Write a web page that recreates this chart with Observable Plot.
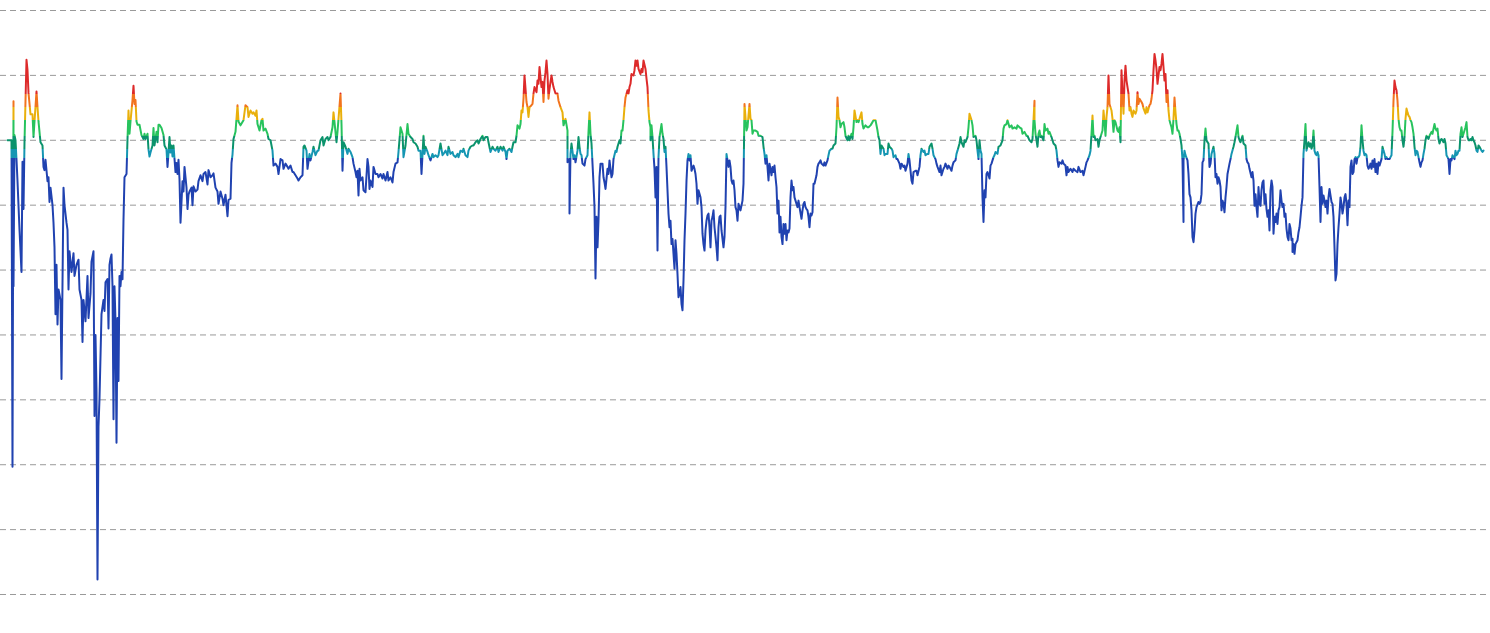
<!DOCTYPE html>
<html>
<head>
<meta charset="utf-8">
<script src="https://cdn.jsdelivr.net/npm/d3@7"></script>
<script src="https://cdn.jsdelivr.net/npm/@observablehq/plot@0.6"></script>
<style>
  html, body { margin: 0; padding: 0; background: #ffffff; overflow: hidden; }
  #chart svg { display: block; }
</style>
</head>
<body>
<div id="chart"></div>
<script>
// Readings: [day, index value], period by period
const period1 = [[0,70.0],[4,70.0],[5,19.7],[6,76.0],[6,47.5],[7,70.8],[8,70.0],[9,67.0],[10,63.7],[12,56.2],[14,49.7],[15,66.7],[16,59.4],[17,69.7],[19,82.4],[20,80.8],[21,77.3],[23,74.0],[25,74.0],[26,70.5],[27,72.9],[29,77.5],[30,75.1],[31,72.9],[33,69.7],[35,69.2],[36,65.9],[37,65.4],[38,67.0],[40,63.7],[41,64.3],[42,60.5],[43,62.7],[45,60.0],[46,57.3],[47,53.5],[48,43.2],[49,50.8],[50,41.6],[51,47.0],[53,45.4],[54,33.2],[56,62.7],[57,60.0],[59,57.3],[60,56.2],[61,47.0],[62,52.9],[64,49.7],[66,52.6],[67,49.1],[69,50.8],[71,51.6],[72,47.0],[74,45.4],[75,38.9],[76,45.4],[78,42.1],[80,49.1],[81,42.6],[83,46.4],[84,51.3],[86,52.9],[87,27.5],[88,40.0],[89,31.3],[90,2.3],[91,25.9],[92,30.2],[94,43.2],[96,45.4],[97,43.7],[98,48.1],[100,48.6],[101,41.0],[102,50.8],[103,51.8],[104,52.4],[105,47.5],[106,27.0],[107,47.5],[108,42.1],[109,23.4],[110,42.6],[111,32.9],[112,49.1],[113,47.5],[114,49.7],[115,48.6],[116,57.8],[117,64.3],[119,64.8],[120,70.2],[121,74.6],[122,71.0],[123,72.9],[125,76.2],[126,78.4],[127,75.6],[128,76.2],[129,72.9],[130,72.4],[132,72.4],[134,70.8],[136,70.2],[137,71.0],[138,70.2],[140,71.0],[141,68.6],[142,67.5],[143,68.1],[145,69.2],[146,71.9],[147,69.2],[149,71.3],[150,69.7],[151,72.4],[152,72.4],[154,71.9],[156,70.8],[157,69.2],[159,68.6],[160,65.9],[161,68.1],[162,70.5],[163,68.1],[164,69.2],[165,67.5],[166,69.2],[168,65.1],[169,66.5],[170,64.8],[171,67.0],[172,64.0],[173,57.3],[175,63.7],[176,62.1],[177,65.9],[179,62.7],[180,59.4],[181,61.6],[182,62.1],[184,62.7],[185,60.0],[186,62.9],[188,62.1],[190,62.4],[191,63.7],[193,64.6],[195,63.7],[196,64.8],[198,65.1],[200,63.2],[201,65.4],[203,64.3],[205,64.6],[206,64.9],[208,62.7],[210,62.1],[211,60.2],[213,62.1],[215,61.0],[216,60.0],[218,61.6],[220,58.3],[221,60.8],[223,61.0],[224,66.5],[225,67.8],[226,70.2],[228,71.3],[230,75.4],[231,72.9]];

const period2 = [[233,72.3],[236,73.1],[238,75.4],[240,75.1],[241,73.6],[243,74.6],[245,74.1],[246,74.3],[248,73.8],[249,74.6],[250,72.5],[252,71.5],[254,73.1],[255,73.3],[256,71.5],[258,71.8],[260,71.0],[261,70.2],[263,70.0],[265,68.4],[266,66.1],[268,66.4],[270,65.9],[271,64.8],[273,67.1],[275,66.9],[276,65.6],[278,66.4],[280,65.9],[281,65.6],[283,66.1],[285,65.1],[286,65.1],[288,64.6],[290,64.1],[291,63.8],[293,64.3],[295,64.6],[296,69.0],[297,69.2],[299,68.4],[300,65.6],[302,67.9],[303,66.9],[305,68.2],[306,69.0],[308,67.7],[310,68.4],[311,68.4],[313,70.0],[315,70.5],[316,69.2],[318,70.2],[320,70.5],[321,70.0],[323,70.5],[325,72.0],[326,74.3],[327,72.8],[329,69.7],[330,71.3],[331,73.3],[333,77.2],[334,72.5],[335,65.3],[336,69.7],[338,69.0],[340,67.9],[341,68.7],[343,68.2],[345,67.4],[346,66.4],[348,65.1],[349,64.3],[350,65.3],[351,61.5],[352,65.6],[353,63.8],[355,64.3],[356,62.3],[358,62.0],[360,67.1],[361,65.9],[362,62.5],[363,63.8],[365,62.8],[366,65.9],[368,64.8],[370,64.8],[371,64.3],[373,64.8],[375,64.1],[376,64.8],[378,63.8],[380,65.1],[381,63.8],[383,64.3],[385,63.5],[386,65.1],[388,66.4],[390,66.6],[391,68.2],[393,72.0],[395,71.0],[396,67.4],[398,69.2],[400,72.5],[401,71.0],[403,70.5],[405,70.2],[406,69.7],[408,69.5],[410,69.0],[411,68.4],[413,68.4],[414,64.8],[416,70.7],[417,67.9],[418,69.0],[420,68.2],[421,67.7],[423,66.9],[425,67.9],[426,67.4],[428,67.7],[430,67.4],[431,67.7],[433,69.5],[435,67.7],[436,67.9],[438,68.4],[440,67.7],[441,69.0],[443,67.9],[445,68.2],[446,67.7],[448,67.4],[450,67.9],[451,67.4],[453,68.4],[455,68.2],[456,68.7],[458,67.7],[460,67.4],[461,68.4],[463,69.0],[465,69.2],[466,69.2],[468,69.7],[470,70.0],[471,69.5],[473,70.2],[475,70.7],[476,70.0],[478,70.5],[480,70.5],[481,69.7],[483,68.2],[485,69.0],[486,68.7],[488,68.4],[490,69.0],[491,68.2]];

const period3 = [[493,69.0],[495,68.4],[496,69.0],[498,68.2],[499,67.1],[500,68.4],[502,68.7],[504,68.2],[505,69.0],[506,69.7],[508,69.7],[509,70.7],[510,72.3],[512,71.8],[513,72.5],[514,74.6],[515,74.3],[516,76.4],[517,80.0],[519,75.9],[520,75.1],[521,73.6],[522,75.1],[524,75.4],[525,75.6],[526,77.2],[527,78.2],[529,77.4],[530,79.2],[531,78.7],[532,81.3],[533,79.7],[534,78.2],[535,79.0],[536,75.9],[537,79.2],[538,80.5],[539,82.3],[540,80.2],[541,76.4],[542,77.9],[544,80.0],[545,79.0],[546,78.2],[548,77.2],[550,77.2],[551,76.1],[553,75.1],[555,74.3],[556,72.3],[558,73.3],[560,71.5],[560,66.6],[562,67.1],[562,58.7],[563,67.9],[564,69.5],[566,67.1],[567,67.7],[568,66.6],[570,68.4],[571,70.5],[572,69.0],[573,67.9],[574,67.7],[575,66.4],[577,66.1],[578,67.1],[580,67.7],[581,71.3],[582,74.3],[583,71.0],[584,69.5],[586,63.3],[587,59.7],[588,48.7],[589,58.2],[590,53.5],[591,57.6],[592,64.3],[593,66.4],[595,66.4],[596,64.3],[597,63.5],[598,62.5],[600,65.6],[601,64.8],[602,66.9],[604,64.3],[605,64.8],[606,67.1],[608,68.4],[609,68.2],[610,69.0],[612,70.0],[613,69.5],[614,71.5],[615,71.5],[616,73.1],[617,75.1],[618,76.6],[620,77.7],[621,77.2],[622,78.2],[623,78.7],[624,80.2],[626,80.0],[627,80.8],[628,82.3],[629,81.5],[630,82.3],[631,81.0],[633,80.2],[634,81.0],[635,80.5],[636,82.3],[638,81.0],[639,79.5],[640,78.2],[641,74.6],[642,72.8],[643,72.0],[643,70.0],[644,72.3],[645,70.5],[646,67.9],[647,65.6],[648,61.2],[649,65.9],[650,53.0],[651,67.4],[652,70.5],[654,72.5],[655,71.0],[656,70.2],[657,68.2],[658,69.0],[659,65.9],[660,62.3],[661,58.7],[662,56.6],[663,57.6],[664,54.0],[665,54.8],[667,50.2],[668,54.6],[669,52.5],[670,49.4],[671,45.8],[672,46.3],[673,47.4],[674,44.8],[675,43.8],[676,48.4],[677,54.6],[678,58.7],[679,63.8],[680,66.9],[681,67.9],[682,66.9],[683,67.7],[684,65.3],[686,66.1],[687,65.6],[688,64.8],[689,63.3],[690,60.2],[691,62.3],[693,61.2],[694,59.7],[695,55.6],[696,54.0],[697,53.0],[698,56.1],[699,57.6],[700,58.4],[701,58.7],[702,56.6],[703,53.5],[704,57.6],[705,58.2],[706,59.2],[707,56.6],[708,55.1],[709,53.5],[710,51.5],[711,56.6],[712,58.2],[713,58.4],[714,56.1],[716,53.5],[717,55.1],[718,59.7],[719,67.9],[720,66.9],[721,65.9],[722,66.9],[723,65.9],[724,63.8],[725,63.3],[726,63.8],[727,62.3],[728,59.7],[729,59.2],[730,57.6],[731,60.2],[733,59.2]];

const period4 = [[735,60.7],[736,63.3],[737,75.6],[739,71.5],[740,72.0],[742,75.6],[743,73.3],[744,73.1],[745,71.0],[746,71.5],[748,71.5],[750,71.3],[751,70.7],[753,70.7],[755,70.5],[756,69.0],[757,67.9],[758,66.4],[759,67.7],[760,65.9],[761,63.8],[762,66.4],[764,64.6],[765,65.9],[766,65.1],[767,66.1],[768,64.3],[769,62.8],[770,58.7],[771,60.7],[772,55.8],[773,58.2],[774,55.1],[775,54.0],[776,57.1],[777,55.6],[778,57.1],[779,54.6],[780,56.1],[781,55.8],[782,56.4],[783,61.2],[784,63.8],[785,62.3],[786,62.8],[787,61.2],[788,60.7],[790,59.7],[791,60.7],[792,59.7],[794,57.9],[795,59.2],[796,60.2],[797,60.5],[798,59.7],[799,59.4],[800,59.2],[801,58.2],[802,56.6],[803,58.7],[804,58.4],[805,58.9],[806,63.3],[807,63.3],[809,64.6],[810,65.9],[811,66.4],[812,66.6],[813,66.9],[814,66.4],[816,66.1],[817,66.6],[818,66.1],[820,66.9],[821,67.7],[822,68.4],[824,68.7],[825,68.7],[826,69.2],[828,69.5],[829,72.0],[830,76.6],[831,73.6],[832,73.1],[833,72.0],[834,72.5],[836,72.8],[837,72.0],[838,70.7],[840,70.0],[841,70.7],[842,70.0],[844,71.0],[845,70.2],[846,72.0],[847,74.6],[849,72.8],[850,73.1],[851,72.8],[852,73.3],[854,74.3],[855,72.5],[856,71.8],[858,72.3],[860,72.0],[861,72.0],[863,72.3],[865,72.8],[866,73.1],[868,73.1],[870,71.5],[871,70.5],[872,70.0],[873,67.9],[874,69.2],[876,68.7],[877,67.7],[878,67.9],[880,67.9],[881,69.5],[882,69.0],[884,68.7],[885,68.4],[886,67.4],[888,67.7],[889,67.1],[890,67.1],[892,66.4],[893,65.6],[894,66.4],[896,65.9],[897,66.1],[898,65.3],[900,66.4],[901,67.9],[902,66.9],[904,63.8],[905,63.3],[906,65.1],[908,65.3],[909,65.3],[910,64.6],[912,65.9],[913,67.7],[914,68.7],[916,68.2],[917,68.4],[918,67.7],[920,67.9],[921,67.9],[922,69.0],[924,69.5],[925,68.7],[926,67.7],[928,67.1],[929,66.4],[930,65.9],[932,65.1],[933,66.1],[934,64.6],[936,65.6],[937,65.9],[938,66.4],[940,65.6],[941,66.1],[942,65.9],[944,65.3],[945,66.1],[946,66.6],[948,66.9],[949,67.9],[950,68.4],[952,69.5],[953,70.5],[954,69.7],[956,69.0],[957,70.0],[958,69.7],[960,70.5],[961,72.0],[962,74.1],[964,73.1],[965,72.3],[966,70.5],[968,70.7],[969,70.0],[970,68.4],[971,67.1],[972,70.0],[973,68.4],[974,67.9],[975,61.2],[976,57.4],[977,62.3],[978,61.2],[979,64.8],[980,65.1],[982,64.1],[983,66.1],[984,66.4],[986,67.4],[987,67.7],[988,68.2],[990,67.9],[991,69.0]];

const period5 = [[993,69.2],[995,70.0],[996,71.8],[997,72.3],[999,72.5],[1000,73.1],[1002,72.0],[1004,72.3],[1005,71.8],[1007,72.0],[1009,71.8],[1010,72.3],[1012,72.0],[1014,71.8],[1015,71.0],[1017,71.3],[1019,70.7],[1020,70.7],[1022,70.0],[1024,69.7],[1025,70.2],[1026,73.1],[1027,76.1],[1027,73.1],[1028,71.0],[1030,69.0],[1031,71.0],[1032,71.5],[1033,70.5],[1034,70.7],[1036,70.0],[1037,72.5],[1038,71.5],[1040,71.8],[1041,71.0],[1042,71.3],[1044,70.5],[1045,70.0],[1046,69.5],[1048,69.2],[1049,68.4],[1050,66.9],[1051,65.9],[1052,66.6],[1054,66.4],[1055,66.9],[1056,66.4],[1058,66.1],[1059,64.6],[1060,65.9],[1061,65.1],[1063,65.6],[1065,65.1],[1066,65.6],[1068,65.3],[1070,65.1],[1071,65.9],[1073,65.1],[1075,65.3],[1076,64.6],[1078,65.9],[1079,66.6],[1080,66.9],[1082,67.7],[1083,68.4],[1084,71.0],[1085,73.8],[1086,70.5],[1087,70.7],[1088,70.0],[1090,70.2],[1091,69.0],[1092,70.0],[1094,71.0],[1095,71.5],[1096,74.6],[1097,72.8],[1098,70.7],[1099,73.6],[1100,75.1],[1101,80.0],[1102,75.6],[1103,75.1],[1104,74.6],[1105,73.3],[1106,71.3],[1107,73.1],[1108,72.8],[1110,71.5],[1111,71.3],[1112,72.0],[1113,69.7],[1114,80.8],[1115,77.2],[1116,74.1],[1117,79.2],[1118,81.5],[1119,79.2],[1120,78.2],[1121,77.2],[1122,74.6],[1123,75.1],[1124,74.1],[1125,73.6],[1126,74.6],[1128,74.1],[1129,74.6],[1130,77.4],[1131,75.6],[1132,76.4],[1134,75.9],[1135,75.6],[1136,74.9],[1138,74.1],[1139,75.1],[1140,74.3],[1142,75.4],[1143,75.6],[1144,76.4],[1145,77.7],[1146,80.8],[1147,83.3],[1148,82.3],[1149,81.0],[1150,78.7],[1151,80.0],[1152,81.3],[1153,80.8],[1154,81.8],[1155,83.3],[1156,81.3],[1157,79.2],[1158,80.2],[1159,75.9],[1160,77.7],[1161,74.6],[1162,73.1],[1163,72.5],[1164,72.0],[1165,71.0],[1166,73.3],[1167,76.6],[1168,74.3],[1169,72.5],[1170,71.5],[1171,71.5],[1172,71.0],[1173,70.2],[1174,69.2],[1175,66.9],[1176,57.4],[1176,66.9],[1177,68.4],[1178,67.7],[1180,66.9],[1181,64.8],[1182,61.7],[1183,61.2],[1184,59.2],[1185,55.1],[1186,54.3],[1187,56.1],[1188,58.7],[1189,59.7],[1191,60.5],[1192,60.2],[1193,60.5],[1194,61.7],[1195,66.6],[1196,66.9],[1197,70.0],[1198,71.8],[1199,70.0],[1200,69.7],[1201,69.5],[1202,65.9],[1203,66.4],[1204,67.9],[1206,69.0],[1207,67.9],[1208,64.3],[1209,64.8],[1210,63.3],[1211,64.3],[1212,63.8],[1213,62.8],[1214,59.2],[1215,60.7],[1216,60.2],[1217,58.9],[1218,61.2],[1219,62.8],[1220,64.8],[1221,65.6],[1222,66.4],[1223,67.1],[1224,67.9],[1226,69.0],[1227,69.7],[1228,70.5],[1230,72.3],[1231,70.5],[1232,70.0]];

const period6 = [[1233,69.7],[1235,70.7],[1236,69.5],[1238,69.2],[1239,67.1],[1240,66.6],[1241,66.4],[1242,65.6],[1244,64.3],[1245,65.1],[1246,63.8],[1247,59.9],[1248,61.7],[1249,59.7],[1250,58.2],[1251,62.8],[1252,60.2],[1253,59.9],[1254,62.3],[1255,63.5],[1256,63.8],[1257,60.2],[1258,61.7],[1259,59.4],[1260,58.2],[1261,59.2],[1262,56.1],[1263,62.3],[1264,63.8],[1265,62.8],[1266,55.6],[1267,58.2],[1268,57.4],[1269,58.7],[1270,57.1],[1271,59.2],[1272,59.7],[1273,62.3],[1274,60.7],[1275,59.7],[1276,60.2],[1277,58.2],[1278,58.7],[1279,56.4],[1280,55.1],[1281,54.6],[1282,57.1],[1283,56.4],[1284,54.6],[1285,54.8],[1285,52.8],[1286,54.0],[1287,52.5],[1288,54.0],[1290,54.6],[1291,55.8],[1292,56.6],[1293,58.2],[1294,59.9],[1295,61.2],[1296,67.9],[1297,70.0],[1298,72.5],[1299,68.4],[1300,69.2],[1301,69.7],[1302,69.0],[1303,69.5],[1304,68.7],[1305,69.2],[1306,71.5],[1307,68.4],[1308,67.9],[1309,67.7],[1310,68.2],[1311,67.7],[1312,62.8],[1313,57.4],[1314,62.8],[1315,60.2],[1316,61.5],[1317,60.7],[1318,59.7],[1319,60.7],[1320,58.7],[1321,61.2],[1322,62.5],[1323,61.5],[1324,60.5],[1325,60.2],[1326,58.2],[1327,53.5],[1328,48.4],[1329,49.4],[1330,54.0],[1331,56.6],[1332,58.7],[1333,61.2],[1334,60.2],[1335,58.7],[1336,59.7],[1337,61.2],[1338,61.7],[1339,60.2],[1340,56.9],[1341,60.7],[1342,59.7],[1343,65.9],[1344,66.9],[1345,64.8],[1346,65.1],[1347,67.1],[1348,67.4],[1349,66.4],[1350,67.4],[1351,67.4],[1352,67.7],[1353,69.0],[1354,72.3],[1355,70.0],[1356,68.4],[1357,67.7],[1358,67.9],[1359,67.7],[1360,66.1],[1361,65.6],[1362,65.9],[1363,66.4],[1364,65.6],[1365,66.9],[1366,65.9],[1367,67.1],[1368,65.1],[1369,66.4],[1370,64.8],[1371,66.6],[1372,66.1],[1373,66.6],[1374,67.1],[1375,69.0],[1376,68.4],[1377,67.9],[1378,67.1],[1379,67.4],[1380,67.1],[1381,67.1],[1382,67.1],[1383,67.4],[1384,67.7],[1385,71.3],[1386,76.1],[1387,79.2],[1388,78.2],[1389,77.7],[1390,76.1],[1391,73.3],[1392,72.0],[1393,71.5],[1394,71.5],[1395,70.0],[1396,69.0],[1397,70.5],[1398,73.3],[1399,74.9],[1400,74.3],[1401,73.8],[1402,73.6],[1403,73.1],[1404,72.8],[1405,72.0],[1406,71.0],[1407,69.0],[1408,67.7],[1409,68.4],[1410,68.2],[1411,67.4],[1412,66.6],[1413,65.9],[1414,66.6],[1415,66.9],[1416,67.9],[1417,68.7],[1418,70.0],[1419,70.7],[1420,70.5],[1421,70.2],[1422,70.7],[1423,71.0],[1424,71.3],[1425,71.0],[1426,71.8],[1427,72.5],[1428,71.8],[1429,71.5],[1430,71.8],[1431,70.2],[1432,69.5],[1433,70.0],[1434,70.2],[1435,70.0],[1436,69.7],[1437,70.2],[1438,69.5],[1439,67.7],[1440,67.4],[1441,67.1],[1442,64.8],[1443,67.1],[1444,66.9],[1445,67.7],[1446,67.4],[1447,67.1],[1448,68.4],[1449,67.7],[1450,67.9],[1451,68.4],[1452,68.4],[1453,71.0],[1454,72.0],[1455,70.5],[1456,71.0],[1457,71.5],[1458,72.0],[1459,72.8],[1460,70.5],[1461,70.0],[1462,70.0],[1463,70.2],[1464,70.0],[1465,70.5],[1466,70.0],[1467,69.7],[1468,69.2],[1469,68.4],[1470,68.2],[1471,69.2],[1472,69.0],[1473,68.7],[1474,68.4],[1475,68.2],[1476,68.4]];

// Gridline levels and colour bands (upper band edges, from highest to lowest)
const gridLevels = [0, 10, 20, 30, 40, 50, 60, 70, 80, 90];
const bandEdges = [77.2, 75.2, 73.2, 70.6, 68.7, 67.2];
const bandColors = ["#dd2a2a", "#f2741e", "#e9b00c", "#27c35d", "#0b936c", "#1596b2", "#2042b0"];
const dayDomain = [-7, 1483];
const valueDomain = [0, 90];

const data = [...period1, ...period2, ...period3, ...period4, ...period5, ...period6]
  .map(([day, value]) => ({day, value}));

const chart = Plot.plot({
  width: 1490,
  height: 633,
  marginTop: 10,
  marginBottom: 39,
  marginLeft: 0,
  marginRight: 0,
  style: {background: "#ffffff"},
  x: {domain: dayDomain, axis: null},
  y: {domain: valueDomain, axis: null},
  marks: [
    Plot.ruleY(gridLevels, {stroke: "#9a9a9a", strokeWidth: 1, strokeDasharray: "6,4"}),
    Plot.line(data, {x: "day", y: "value", stroke: "url(#levelGradient)", strokeWidth: 2, strokeLinejoin: "round"})
  ]
});

// Vertical step gradient positioned through the y scale
const yScale = chart.scale("y");
const yTop = yScale.apply(valueDomain[1]);
const yBottom = yScale.apply(valueDomain[0]);
const svg = d3.select(chart);
const defs = svg.insert("defs", ":first-child");
const grad = defs.append("linearGradient")
  .attr("id", "levelGradient")
  .attr("gradientUnits", "userSpaceOnUse")
  .attr("x1", 0).attr("x2", 0)
  .attr("y1", yTop).attr("y2", yBottom);
const offsets = bandEdges.map(v => (yScale.apply(v) - yTop) / (yBottom - yTop));
const bounds = [0, ...offsets, 1];
bandColors.forEach((c, i) => {
  grad.append("stop").attr("offset", bounds[i]).attr("stop-color", c);
  grad.append("stop").attr("offset", bounds[i + 1]).attr("stop-color", c);
});

document.getElementById("chart").appendChild(chart);
</script>
</body>
</html>
